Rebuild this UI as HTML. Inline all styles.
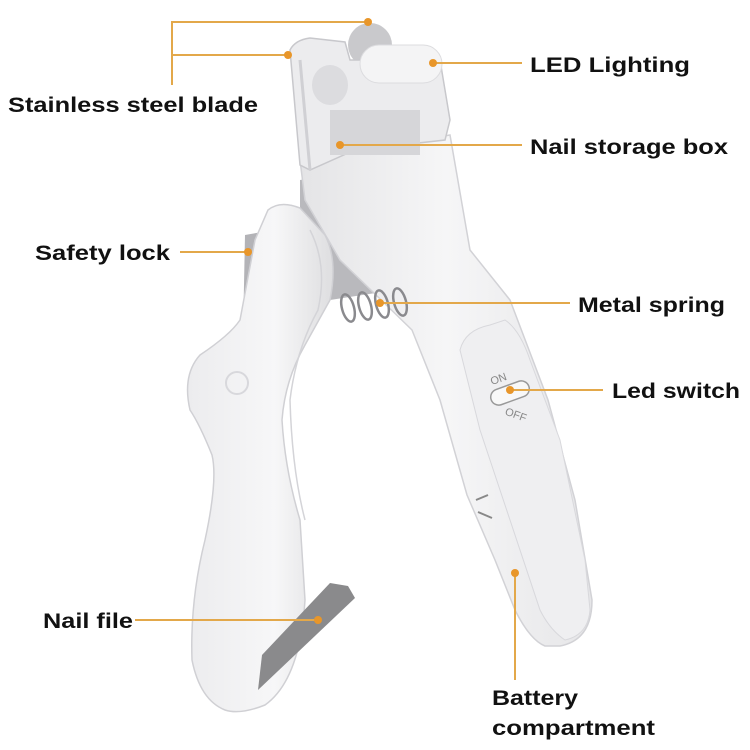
<!DOCTYPE html>
<html><head><meta charset="utf-8"><style>
html,body{margin:0;padding:0;background:#fff;}
svg{display:block}
text{font-family:"Liberation Sans",Arial,sans-serif;font-weight:bold;fill:#111;font-size:21px}
</style></head><body>
<svg width="750" height="750" viewBox="0 0 750 750" xmlns="http://www.w3.org/2000/svg">
<defs>
<linearGradient id="g1" x1="0" y1="0" x2="1" y2="0">
<stop offset="0" stop-color="#e4e4e6"/><stop offset="0.5" stop-color="#f6f6f7"/><stop offset="1" stop-color="#e6e6e8"/>
</linearGradient>
<linearGradient id="g2" x1="0" y1="0" x2="1" y2="0">
<stop offset="0" stop-color="#ececee"/><stop offset="0.6" stop-color="#f7f7f8"/><stop offset="1" stop-color="#dedee0"/>
</linearGradient>
</defs>
<polygon points="300,180 330,175 345,250 372,262 395,290 330,300 300,230" fill="#b9b9bd"/>
<ellipse cx="370" cy="45" rx="22" ry="22" fill="#c9c9cc"/>
<path d="M300,160 L450,135 L470,250 L510,300 L548,400 L575,500 L592,600 Q592,640 560,646 L545,646 Q530,640 515,610 L495,560 L467,495 L440,400 L412,330 L340,260 L305,200 Z" fill="url(#g1)" stroke="#d2d2d6" stroke-width="1.5"/>
<path d="M460,350 Q465,330 490,325 L505,320 Q520,330 530,360 L560,440 L585,560 L590,610 Q588,635 565,640 Q550,630 540,610 L510,520 L480,430 Z" fill="#efeff1" stroke="#d8d8dc" stroke-width="1"/>
<text x="490" y="382" transform="rotate(-20 500 378)" style="font-size:11px;font-weight:normal;fill:#888">ON</text>
<text x="505" y="418" transform="rotate(20 515 414)" style="font-size:11px;font-weight:normal;fill:#888">OFF</text>
<rect x="490" y="385" width="40" height="16" rx="8" transform="rotate(-20 510 393)" fill="#f8f8f8" stroke="#999" stroke-width="1.5"/>
<path d="M476,500 L488,495 M478,512 L492,518" stroke="#888" stroke-width="2"/>
<path d="M290,50 Q295,40 310,38 L345,42 L350,60 L440,60 L450,120 L445,140 L355,150 L310,170 L300,165 Z" fill="#ececee" stroke="#c8c8cc" stroke-width="1.5"/>
<rect x="330" y="110" width="90" height="45" fill="#d6d6d9"/>
<path d="M310,170 L300,60" stroke="#d0d0d4" stroke-width="3"/>
<ellipse cx="330" cy="85" rx="18" ry="20" fill="#dcdcdf"/>
<rect x="360" y="45" width="82" height="38" rx="19" fill="#f4f4f5" stroke="#dcdcdf"/>
<g fill="none" stroke="#8a8a8e" stroke-width="2.5">
<ellipse cx="348" cy="308" rx="6" ry="14" transform="rotate(-15 348 308)"/>
<ellipse cx="365" cy="306" rx="6" ry="14" transform="rotate(-15 365 306)"/>
<ellipse cx="382" cy="304" rx="6" ry="14" transform="rotate(-15 382 304)"/>
<ellipse cx="400" cy="302" rx="6" ry="14" transform="rotate(-15 400 302)"/>
</g>
<polygon points="245,235 262,232 262,330 243,335" fill="#b3b3b7"/>
<path d="M268,210 Q280,200 300,208 L325,235 Q338,260 330,300 L305,345 Q285,380 282,420 Q285,470 300,520 L305,600 Q300,680 265,705 Q240,715 225,710 Q200,700 192,660 Q190,600 205,540 Q218,480 212,455 Q200,425 190,410 Q182,375 200,355 Q230,335 240,320 L255,240 Z" fill="url(#g2)" stroke="#d0d0d4" stroke-width="1.5"/>
<path d="M310,230 Q328,265 318,310 Q296,350 290,400 Q292,470 305,520" fill="none" stroke="#d4d4d8" stroke-width="1.5"/>
<circle cx="237" cy="383" r="11" fill="none" stroke="#d8d8dc" stroke-width="2"/>
<polygon points="258,690 262,655 330,583 348,586 355,598" fill="#8a8a8c"/>
<g stroke="#e3a84a" stroke-width="2" fill="none">
<path d="M172,85 L172,22 L368,22 M172,55 L288,55"/>
<path d="M433,63 L522,63"/>
<path d="M340,145 L522,145"/>
<path d="M180,252 L248,252"/>
<path d="M380,303 L570,303"/>
<path d="M510,390 L603,390"/>
<path d="M135,620 L318,620"/>
<path d="M515,573 L515,680"/>
</g>
<g fill="#e8962a">
<circle cx="368" cy="22" r="4"/><circle cx="288" cy="55" r="4"/><circle cx="433" cy="63" r="4"/>
<circle cx="340" cy="145" r="4"/><circle cx="248" cy="252" r="4"/><circle cx="380" cy="303" r="4"/>
<circle cx="510" cy="390" r="4"/><circle cx="318" cy="620" r="4"/><circle cx="515" cy="573" r="4"/>
</g>
<text x="8" y="112" textLength="250" lengthAdjust="spacingAndGlyphs">Stainless steel blade</text>
<text x="530" y="72" textLength="160" lengthAdjust="spacingAndGlyphs">LED Lighting</text>
<text x="530" y="154" textLength="198" lengthAdjust="spacingAndGlyphs">Nail storage box</text>
<text x="35" y="260" textLength="135" lengthAdjust="spacingAndGlyphs">Safety lock</text>
<text x="578" y="312" textLength="147" lengthAdjust="spacingAndGlyphs">Metal spring</text>
<text x="612" y="398" textLength="128" lengthAdjust="spacingAndGlyphs">Led switch</text>
<text x="43" y="628" textLength="90" lengthAdjust="spacingAndGlyphs">Nail file</text>
<text x="492" y="705" textLength="86" lengthAdjust="spacingAndGlyphs">Battery</text>
<text x="492" y="735" textLength="163" lengthAdjust="spacingAndGlyphs">compartment</text>
</svg>
</body></html>
